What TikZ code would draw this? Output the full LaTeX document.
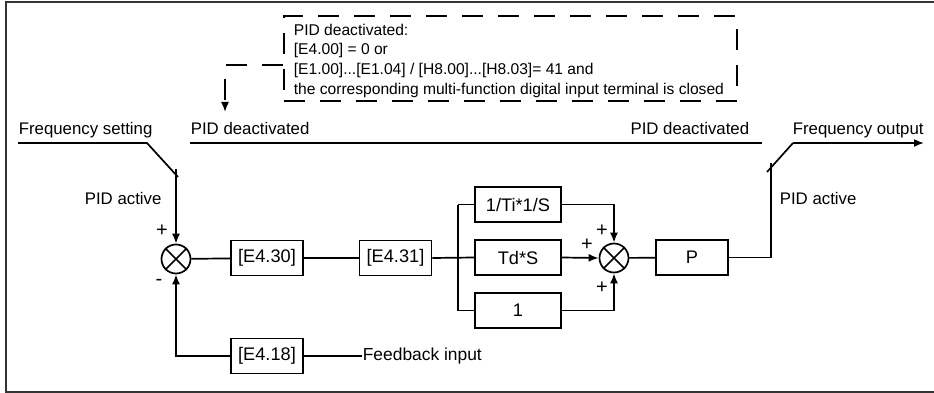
\documentclass[tikz,border=0pt]{standalone}
\usepackage{fontspec}
\setmainfont{Liberation Sans}
\usetikzlibrary{arrows.meta}
\begin{document}
\begin{tikzpicture}[x=1pt,y=-1pt,
  font=\fontsize{16.8}{19.8}\selectfont,
  line width=1.7pt,
  >={Latex[length=10pt,width=8pt]},
  blk/.style={draw, minimum width=72pt, minimum height=35pt, inner sep=0pt,
              font=\fontsize{18.2}{20}\selectfont},
  wideblk/.style={blk, minimum width=86pt},
  sumj/.style={draw, circle, minimum size=29pt, inner sep=0pt},
  lbl/.style={inner sep=0pt, anchor=base west},
  dashpat/.style={dash pattern=on 21pt off 15pt},
  sgn/.style={inner sep=0pt, font=\fontsize{20}{20}\selectfont}]
\useasboundingbox (0,0) rectangle (934,393);
% frame
\draw[line width=1.6pt, black!80] (936,2) -- (6,2) -- (6,392) -- (936,392);

% dashed info box
\node[draw, dashpat, anchor=north west, minimum width=453pt, minimum height=85pt,
      inner sep=0pt] (db) at (283,15) {};
\node[inner sep=0pt, anchor=north west, align=left,
      font=\fontsize{15.6}{19.8}\selectfont] (dbt) at (293,23)
  {PID deactivated:\\
   {[E4.00] = 0 or}\\
   {[E1.00]...[E1.04] / [H8.00]...[H8.03]= 41 and}\\
   the corresponding multi-function digital input terminal is closed};
\coordinate (dbend) at (225,112);
\draw[dashpat, ->] (db.west |- 0,65) -- (225,65) -- (dbend);

% labels
\node[lbl] (fs) at (18,134.5) {Frequency setting};
\node[lbl] (pdl) at (190,134.5) {PID deactivated};
\node[lbl, anchor=base east] (pdr) at (750,134.5) {PID deactivated};
\node[lbl] (fo) at (792,134.5) {Frequency output};
\node[lbl] (pal) at (84,204) {PID active};
\node[lbl] (par) at (779,204) {PID active};

% blocks
\node[sumj] (s1) at (176,259) {};
\draw (s1.45) -- (s1.225) (s1.135) -- (s1.315);
\node[blk] (e430) at (267,258) {[E4.30]};
\node[blk] (e431) at (395.5,258) {[E4.31]};
\node[wideblk] (ti) at (518,204.5) {1/Ti*1/S};
\node[wideblk] (td) at (518,257.5) {Td*S};
\node[wideblk] (one) at (518,310.5) {1};
\node[sumj] (s2) at (614,258) {};
\draw (s2.45) -- (s2.225) (s2.135) -- (s2.315);
\node[blk] (p) at (692,257.5) {P};
\node[blk] (e418) at (267,356) {[E4.18]};
\node[inner sep=0pt, anchor=west, font=\fontsize{17.4}{20}\selectfont] (fb) at (362,356) {Feedback input};

% signs
\node[sgn] (pl1) at (162,231) {+};
\node[sgn] (mi1) at (159,282) {-};
\node[sgn] (pl2) at (602,231) {+};
\node[sgn] (pl3) at (587,245) {+};
\node[sgn] (pl4) at (602,288) {+};

% switch and lines
\coordinate (fsa) at (18,143);
\coordinate (fsb) at (147,143);
\coordinate (fsc) at (178,177);
\coordinate (swl) at (176,169);
\draw (fsa) -- (fsb) -- (fsc);
\draw[->] (swl) -- (s1.north);
\coordinate (pda) at (190,143);
\coordinate (pdb) at (762,143);
\draw (pda) -- (pdb);

\draw (s1) -- (e430);
\draw (e430) -- (e431);
\coordinate (br) at (458,258);
\draw (e431.east) -- (td.west);
\draw (br |- ti.west) -- (br |- one.west);
\draw (br |- ti.west) -- (ti.west);
\draw (br |- one.west) -- (one.west);
\draw[->] (ti.east) -| (s2.north);
\draw[->] (td.east) -- (s2.west);
\draw[->] (one.east) -| (s2.south);
\draw (s2) -- (p);

\coordinate (swr) at (771,163);
\coordinate (foa) at (767,172);
\coordinate (fob) at (793,143);
\coordinate (foc) at (924,143);
\draw (p.east) -| (swr);
\draw (foa) -- (fob);
\draw[->] (fob) -- (foc);

\draw[->] (e418.west) -| (s1.south);
\draw (e418) -- (fb);
\end{tikzpicture}
\end{document}
